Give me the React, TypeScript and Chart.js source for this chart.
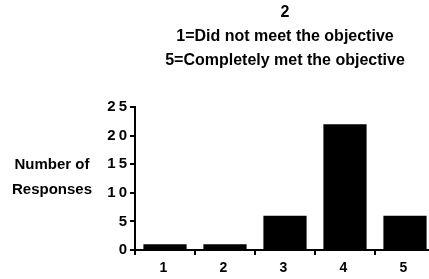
import React, { useEffect, useRef } from 'react';
import { Chart, registerables } from 'chart.js';

Chart.register(...registerables);

const titleLines = ['2', '1=Did not meet the objective', '5=Completely met the objective'];
const yAxisTitleLines = ['Number of', 'Responses'];
const categories = ['1', '2', '3', '4', '5'];
const responses = [1, 1, 6, 22, 6];
const yMin = 0;
const yMax = 25;
const yStep = 5;

const FONT_FAMILY = '"Liberation Sans", Arial, Helvetica, sans-serif';

const textPlugin = {
  id: 'scanText',
  beforeDraw(chart: any) {
    chart.ctx.letterSpacing = '3px';
  },
  afterDraw(chart: any) {
    const ctx = chart.ctx;
    ctx.save();
    ctx.letterSpacing = '0px';
    ctx.fillStyle = '#000';
    ctx.font = `bold 16px ${FONT_FAMILY}`;
    ctx.textAlign = 'center';
    ctx.textBaseline = 'middle';
    const cx = (chart.chartArea.left + chart.chartArea.right) / 2;
    titleLines.forEach((t, i) => ctx.fillText(t, cx, 13 + 24 * i));
    ctx.font = `bold 15px ${FONT_FAMILY}`;
    yAxisTitleLines.forEach((t, i) => ctx.fillText(t, 52, 165 + 25 * i));
    ctx.restore();
  },
};

export default function App() {
  const ref = useRef<HTMLCanvasElement | null>(null);

  useEffect(() => {
    document.body.style.margin = '0';
    if (!ref.current) return;
    const chart = new Chart(ref.current, {
      type: 'bar',
      data: {
        labels: categories,
        datasets: [
          {
            data: responses,
            backgroundColor: '#000',
            borderWidth: 0,
            barPercentage: 0.72,
            categoryPercentage: 1,
          },
        ],
      },
      options: {
        responsive: false,
        animation: false,
        layout: { padding: { top: 107, left: 0, right: 0, bottom: 0 } },
        plugins: {
          legend: { display: false },
          title: { display: false },
          tooltip: { enabled: false },
        },
        scales: {
          x: {
            afterFit: (s: any) => {
              s.height = 29;
            },
            grid: {
              offset: true,
              drawOnChartArea: false,
              drawTicks: true,
              tickLength: 5,
              color: '#000',
              lineWidth: 2,
            },
            border: { display: true, color: '#000', width: 2 },
            ticks: {
              color: '#000',
              padding: 5,
              font: { family: FONT_FAMILY, size: 14, weight: 'bold' },
            },
          },
          y: {
            min: yMin,
            max: yMax,
            afterFit: (s: any) => {
              s.width = 135;
            },
            grid: {
              drawOnChartArea: false,
              drawTicks: true,
              tickLength: 5,
              color: '#000',
              lineWidth: 2,
            },
            border: { display: true, color: '#000', width: 2 },
            ticks: {
              stepSize: yStep,
              color: '#000',
              padding: 0,
              font: { family: FONT_FAMILY, size: 15, weight: 'bold' },
            },
          },
        },
      },
      plugins: [textPlugin],
    });
    return () => chart.destroy();
  }, []);

  return (
    <div style={{ width: 429, height: 279, overflow: 'hidden', position: 'relative' }}>
      <canvas ref={ref} width={435} height={279} style={{ display: 'block', width: 435, height: 279 }} />
    </div>
  );
}
